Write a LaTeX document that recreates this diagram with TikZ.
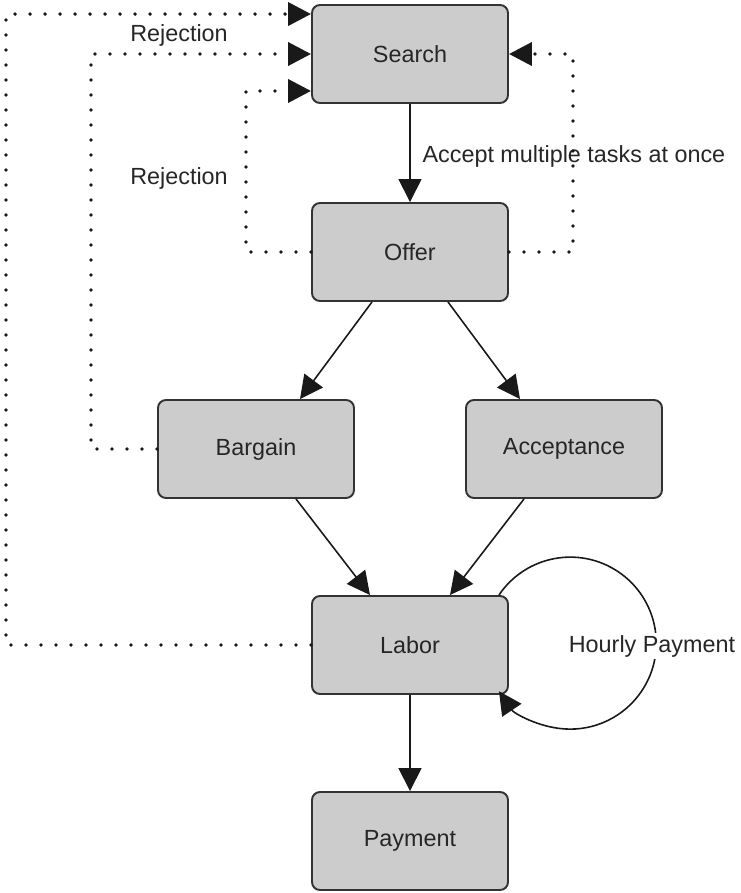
\documentclass[tikz,border=0pt]{standalone}
\usepackage{fontspec}
\setmainfont{Liberation Sans}
\usetikzlibrary{arrows.meta}

\tikzset{
    stage/.style={draw=black!80, fill=black!20, line width=1.1pt, rounded corners=0.16cm,
        minimum width=3.92cm, minimum height=1.96cm, text=black!85},
    flow/.style={-{Triangle[length=0.46cm,width=0.46cm]}, line width=0.9pt, black!90},
    back/.style={flow, line width=2.2pt, line cap=round, dash pattern=on 0pt off 0.3cm},
    tag/.style={text=black!85, inner sep=1pt}
}

\begin{document}
\begin{tikzpicture}[font=\fontsize{13.3}{16}\selectfont]
    \useasboundingbox (0,0) rectangle (14.8,-17.86);
    \node[stage] (search) at (8.2,-1.08) {Search};
    \node[stage] (offer) at (8.2,-5.04) {Offer};
    \node[stage] (bargain) at (5.12,-8.98) {Bargain};
    \node[stage] (accept) at (11.28,-8.98) {Acceptance};
    \node[stage] (labor) at (8.2,-12.9) {Labor};
    \node[stage] (payment) at (8.2,-16.82) {Payment};

    \draw[flow] (search) -- (offer) node[tag, pos=0.54, right=0.2cm] {Accept multiple tasks at once};
    \draw[flow] ([xshift=-0.76cm]offer.south) -- ([xshift=0.88cm]bargain.north);
    \draw[flow] ([xshift=0.76cm]offer.south) -- ([xshift=-0.88cm]accept.north);
    \draw[flow] ([xshift=0.8cm]bargain.south) -- ([xshift=-0.8cm]labor.north);
    \draw[flow] ([xshift=-0.8cm]accept.south) -- ([xshift=0.8cm]labor.north);
    \draw[flow] (labor) -- (payment);
    \draw[flow] ([xshift=-0.2cm]labor.north east) arc[start angle=146, end angle=-146, radius=1.72cm];
    \node[tag, fill=white] (hourly) at (13.04,-12.92) {Hourly Payment};

    \draw[back] (labor.west) -- ++(-6.1,0) |- ([yshift=-0.2cm]search.north west);
    \draw[back] (bargain.west) -- ++(-1.32,0) |- (search.west);
    \draw[back] (offer.west) -- ++(-1.3,0) |- ([yshift=0.26cm]search.south west);
    \draw[back] (offer.east) -- ++(1.28,0) |- (search.east);
    \node[tag] (rej1) at (3.58,-0.70) {Rejection};
    \node[tag] (rej2) at (3.58,-3.56) {Rejection};
\end{tikzpicture}
\end{document}
